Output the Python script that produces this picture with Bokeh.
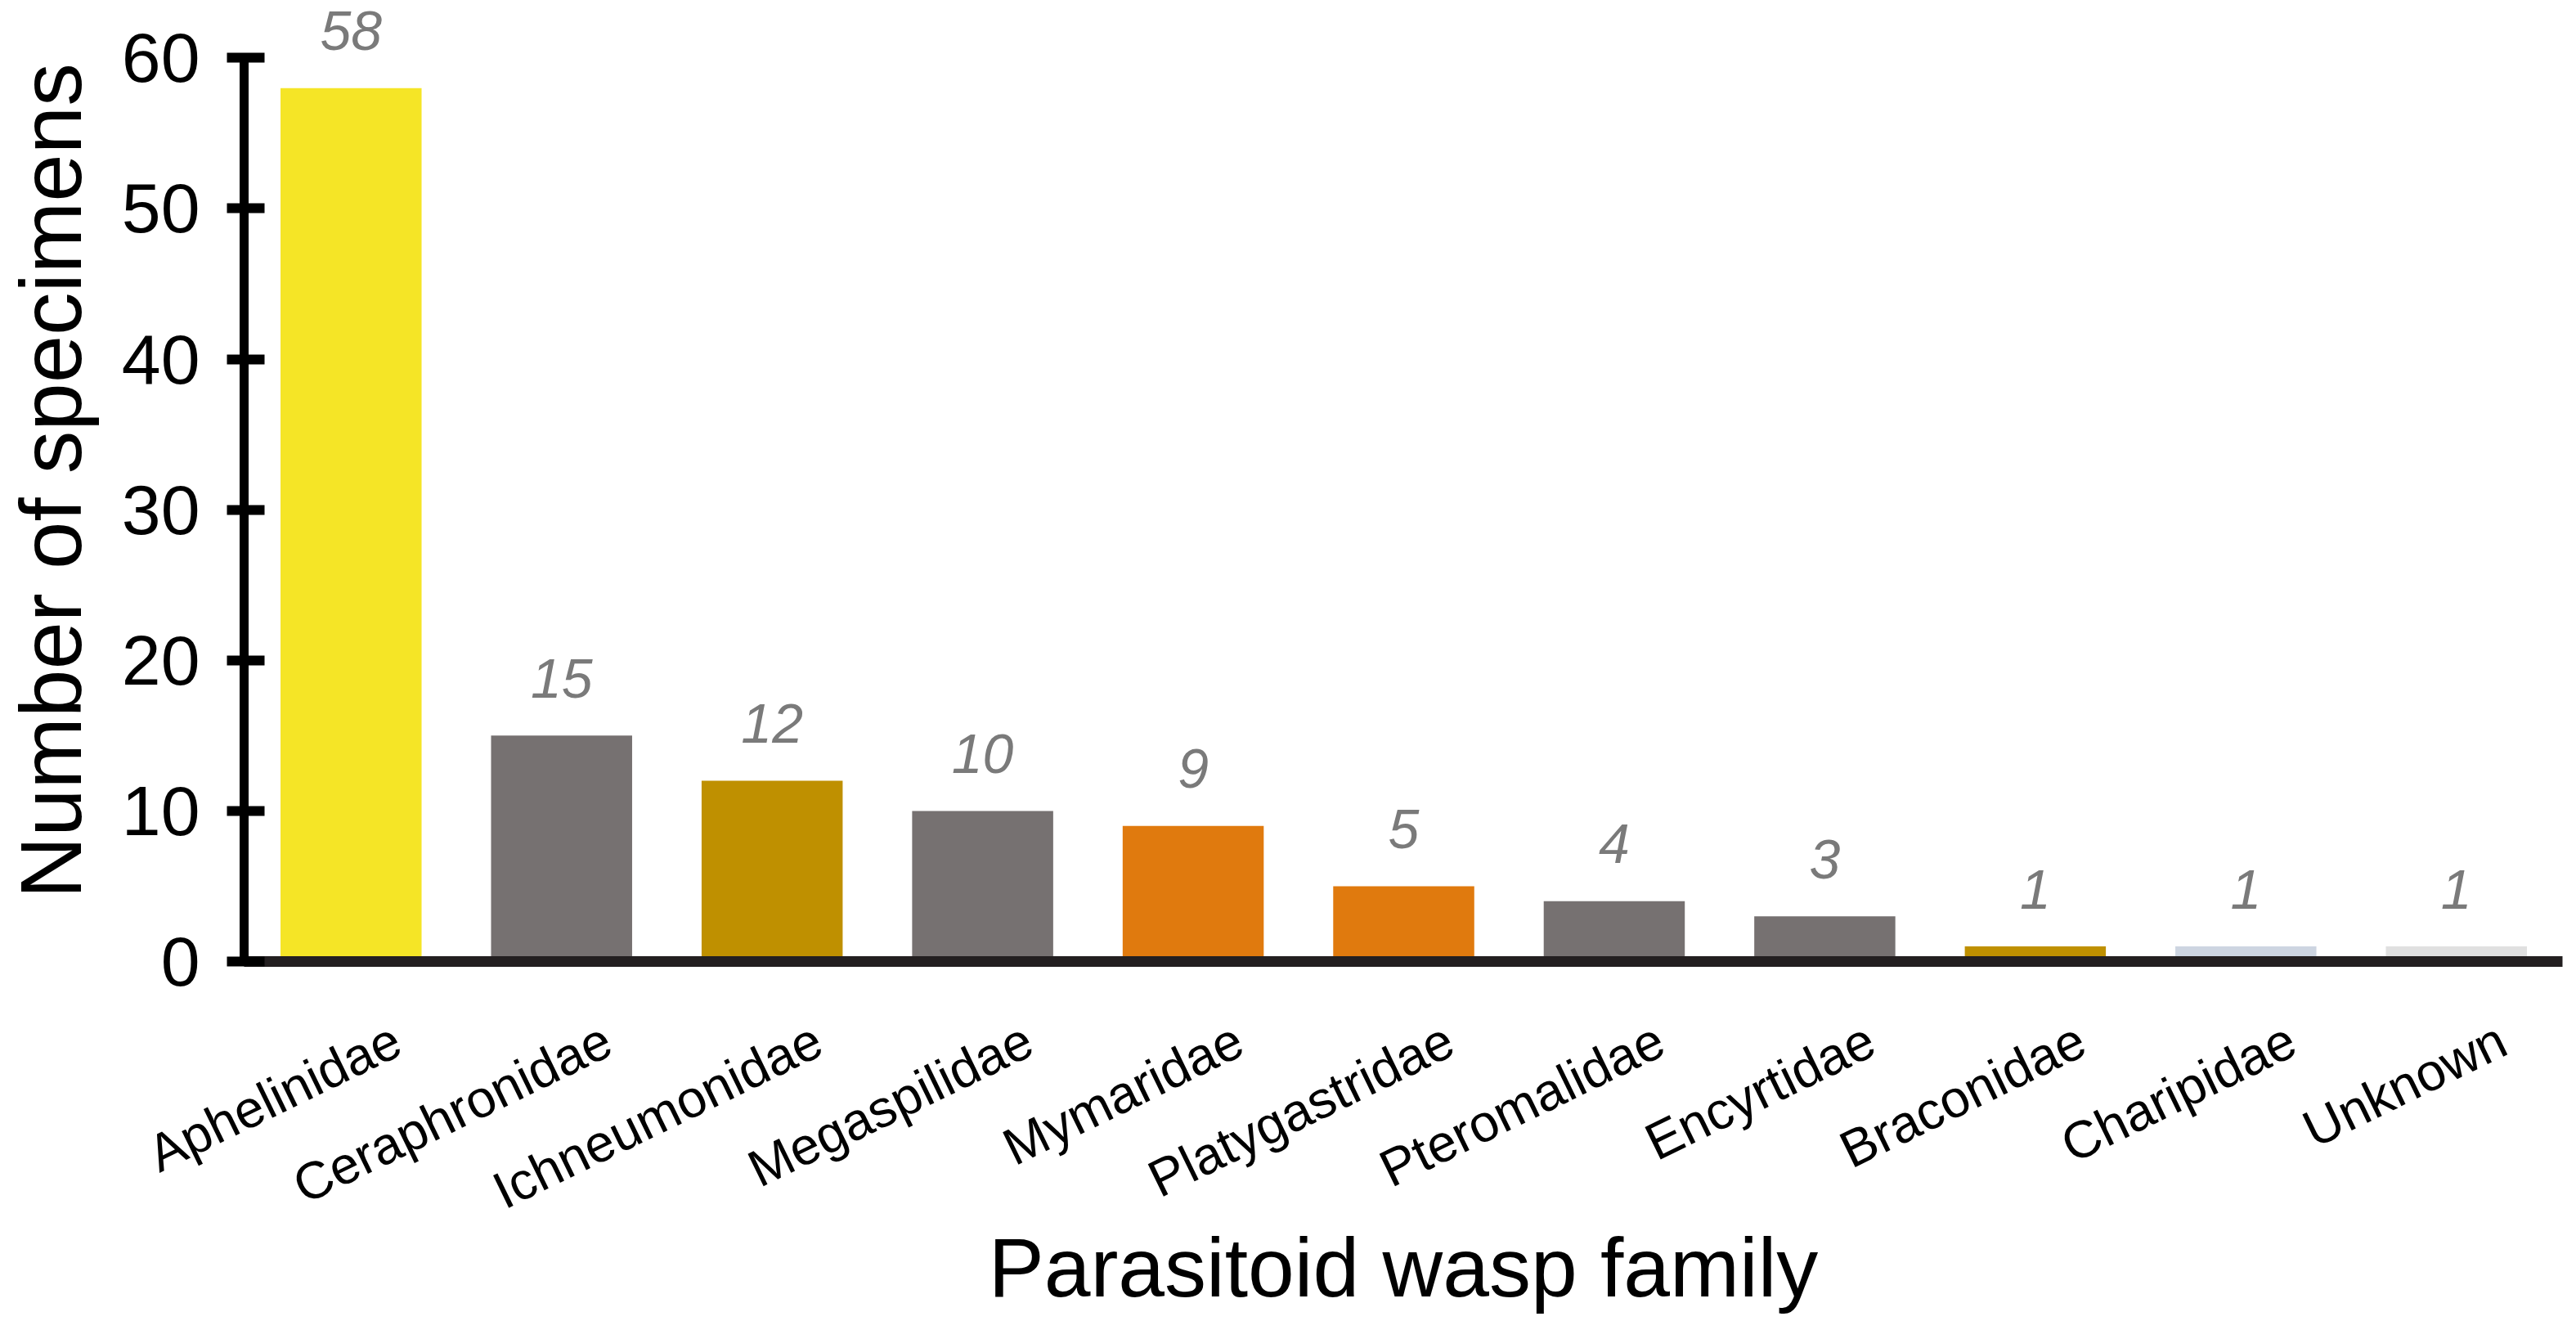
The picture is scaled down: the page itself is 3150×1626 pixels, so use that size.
import math
from bokeh.plotting import figure
from bokeh.models import Range1d, FixedTicker, ColumnDataSource
from bokeh.core.properties import value
from bokeh.embed import file_html
from bokeh.resources import INLINE

families = ["Aphelinidae", "Ceraphronidae", "Ichneumonidae", "Megaspilidae", "Mymaridae",
            "Platygastridae", "Pteromalidae", "Encyrtidae", "Braconidae", "Charipidae", "Unknown"]
counts = [58, 15, 12, 10, 9, 5, 4, 3, 1, 1, 1]
colors = ["#F5E526", "#767171", "#BF9000", "#767171", "#E07A0E",
          "#E07A0E", "#767171", "#767171", "#BF9000", "#CDD5E1", "#E0E0E0"]
y_ticks = [0, 10, 20, 30, 40, 50, 60]
x_title = "Parasitoid wasp family"
y_title = "Number of specimens"

FONT = "Liberation Sans"

xs = list(range(len(families)))
src = ColumnDataSource(dict(x=xs, top=counts, color=colors,
                            label=[str(c) for c in counts]))

p = figure(width=3134, height=1610, output_backend="svg", toolbar_location=None,
           x_range=Range1d(-0.508, 10.504), y_range=Range1d(0, 63.82),
           min_border_left=292, min_border_right=1, min_border_top=0, min_border_bottom=428)

p.vbar(x="x", top="top", bottom=0, width=0.67, color="color", source=src, line_color=None)
p.text(x="x", y="top", text="label", source=src, text_align="center",
       text_baseline="alphabetic", y_offset=-70, text_color="#7A7A7A",
       text_font=value(FONT), text_font_size="68px", text_font_style="italic")

p.outline_line_color = None
p.grid.visible = False
p.background_fill_color = "white"

# y axis
ya = p.yaxis[0]
ya.ticker = FixedTicker(ticks=y_ticks)
ya.bounds = (0, 60)
ya.axis_line_width = 11
ya.axis_line_color = "#000000"
ya.major_tick_line_width = 12
ya.major_tick_line_color = "#000000"
ya.major_tick_in = 25
ya.major_tick_out = 21
ya.minor_tick_line_color = None
ya.major_label_text_font = FONT
ya.major_label_text_font_size = "86px"
ya.major_label_text_color = "#000000"
ya.major_label_standoff = 33
ya.axis_label = y_title
ya.axis_label_text_font = FONT
ya.axis_label_text_font_size = "105px"
ya.axis_label_text_font_style = "normal"
ya.axis_label_text_color = "#000000"
ya.axis_label_standoff = 25

# x axis (labels anchored slightly right of bar centres, as in the reference)
shift = 0.22
tick_pos = [i + shift for i in xs]
xa = p.xaxis[0]
xa.ticker = FixedTicker(ticks=tick_pos)
xa.major_label_overrides = {t: f for t, f in zip(tick_pos, families)}
xa.major_label_orientation = 0.4538
xa.axis_line_width = 13
xa.axis_line_color = "#231F20"
xa.major_tick_in = 0
xa.major_tick_out = 0
xa.minor_tick_line_color = None
xa.major_label_text_font = FONT
xa.major_label_text_font_size = "64px"
xa.major_label_text_color = "#000000"
xa.major_label_standoff = 92
xa.axis_label = x_title
xa.axis_label_text_font = FONT
xa.axis_label_text_font_size = "102px"
xa.axis_label_text_font_style = "normal"
xa.axis_label_text_color = "#000000"
xa.axis_label_standoff = -34

open("out.html", "w").write(file_html(p, INLINE))
